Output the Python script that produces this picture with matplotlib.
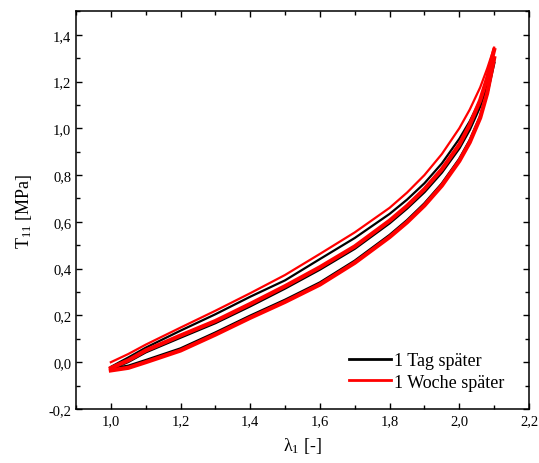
import matplotlib
matplotlib.use("Agg")
import matplotlib.pyplot as plt
from matplotlib.ticker import MultipleLocator, FuncFormatter
from matplotlib.lines import Line2D

plt.rcParams['font.family'] = ['Liberation Serif', 'DejaVu Serif']
plt.rcParams['mathtext.fontset'] = 'custom'
plt.rcParams['mathtext.rm'] = 'Liberation Serif'
plt.rcParams['mathtext.it'] = 'Liberation Serif:italic'

# ---------------- data ----------------
lam = [1.0, 1.05, 1.1, 1.2, 1.3, 1.4, 1.5, 1.6, 1.7, 1.8, 1.85, 1.9, 1.95, 2.0, 2.03, 2.06, 2.08, 2.1]

# 1 Woche spaeter (red)
woche_up  = [0.0, 0.035, 0.075, 0.148, 0.220, 0.295, 0.373, 0.463, 0.555, 0.660, 0.725, 0.800, 0.890, 1.000, 1.080, 1.175, 1.255, 1.345]
woche_mid = [-0.025, 0.008, 0.050, 0.114, 0.176, 0.249, 0.325, 0.406, 0.495, 0.605, 0.668, 0.740, 0.825, 0.930, 1.015, 1.120, 1.215, 1.335]
woche_low = [-0.035, -0.024, 0.000, 0.050, 0.118, 0.190, 0.258, 0.332, 0.425, 0.535, 0.598, 0.670, 0.755, 0.860, 0.940, 1.045, 1.150, 1.300]

# 1 Tag spaeter (black)
tag_up  = [-0.020, 0.020, 0.062, 0.135, 0.205, 0.280, 0.350, 0.441, 0.531, 0.634, 0.695, 0.765, 0.850, 0.955, 1.030, 1.120, 1.200, 1.300]
tag_mid = [-0.030, 0.002, 0.043, 0.106, 0.168, 0.240, 0.316, 0.397, 0.486, 0.595, 0.658, 0.728, 0.812, 0.915, 0.995, 1.095, 1.185, 1.295]
tag_low = [-0.028, -0.016, 0.008, 0.058, 0.126, 0.198, 0.266, 0.340, 0.433, 0.543, 0.606, 0.678, 0.763, 0.868, 0.948, 1.050, 1.150, 1.280]

fig = plt.figure(figsize=(5.39, 4.64), dpi=100)
ax = fig.add_axes([0.141, 0.1164, 0.8404, 0.857])

# black first, red on top
ax.plot(lam, tag_mid, color='black', lw=2.0)
ax.plot(lam, tag_low, color='black', lw=2.0)
ax.plot(lam, tag_up, color='black', lw=1.6)
ax.plot(lam, woche_mid, color='red', lw=3.0)
ax.plot(lam, woche_low, color='red', lw=3.0)
ax.plot(lam, woche_up, color='red', lw=1.6)

ax.set_xlim(0.9, 2.2)
ax.set_ylim(-0.2, 1.5)

ax.xaxis.set_major_locator(MultipleLocator(0.2))
ax.xaxis.set_minor_locator(MultipleLocator(0.1))
ax.yaxis.set_major_locator(MultipleLocator(0.2))
ax.yaxis.set_minor_locator(MultipleLocator(0.1))
fmt = FuncFormatter(lambda v, p: ('%.1f' % v).replace('.', ','))
ax.xaxis.set_major_formatter(fmt)
ax.yaxis.set_major_formatter(fmt)

ax.tick_params(which='both', direction='in', top=True, right=True, width=1.0, labelsize=10.5)
ax.tick_params(which='major', length=4.5)
ax.tick_params(which='minor', length=2.8)
for s in ax.spines.values():
    s.set_linewidth(1.1)

ax.set_xlabel('λ$_{1}$ [-]', fontsize=13, labelpad=6)
ax.set_ylabel('T$_{11}$ [MPa]', fontsize=13, labelpad=10)

handles = [Line2D([], [], color='black', lw=2.0), Line2D([], [], color='red', lw=2.0)]
ax.legend(handles, ['1 Tag später', '1 Woche später'], loc='lower right', frameon=False,
          fontsize=13, handlelength=2.3, handletextpad=0.2, labelspacing=0.25,
          bbox_to_anchor=(0.982, 0.005))

fig.savefig('out.png', dpi=100)
